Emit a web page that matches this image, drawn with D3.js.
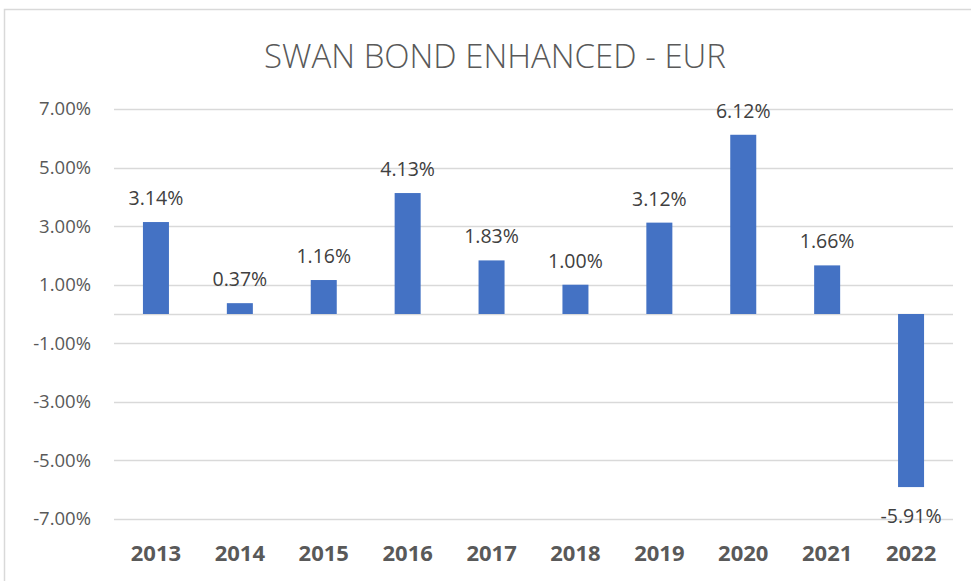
<!DOCTYPE html>
<html>
<head>
<meta charset="utf-8">
<script src="https://cdn.jsdelivr.net/npm/d3@7"></script>
<style>
  html, body { margin: 0; padding: 0; background: #fff; }
  svg { display: block; }
  text { font-family: "Open Sans", "Liberation Sans", sans-serif; }
</style>
</head>
<body>
<svg id="chart" width="971" height="581"></svg>
<script>
const years = ["2013","2014","2015","2016","2017","2018","2019","2020","2021","2022"];
const returns = [3.14, 0.37, 1.16, 4.13, 1.83, 1.00, 3.12, 6.12, 1.66, -5.91];
const tickValues = [7, 5, 3, 1, -1, -3, -5, -7];
const title = "SWAN BOND ENHANCED - EUR";

const svg = d3.select("#chart");
const W = 971, H = 581;
const pct = v => d3.format(".2f")(v).replace("\u2212", "-") + "%";

// chart frame
svg.append("rect")
  .attr("x", 4.5).attr("y", 9.5)
  .attr("width", W + 10).attr("height", H + 10)
  .attr("fill", "#fff").attr("stroke", "#d9d9d9").attr("stroke-width", 1.5);

const plot = { left: 114, right: 953, top: 109, bottom: 519 };

const x = d3.scaleBand().domain(years).range([plot.left, plot.right]).paddingInner(0.69).paddingOuter(0.345);
const y = d3.scaleLinear().domain([-7, 7]).range([plot.bottom, plot.top]);

// gridlines
svg.append("g").selectAll("line").data(tickValues.concat([0])).join("line")
  .attr("x1", plot.left).attr("x2", plot.right)
  .attr("y1", d => Math.round(y(d)) + 0.5).attr("y2", d => Math.round(y(d)) + 0.5)
  .attr("stroke", "#d9d9d9").attr("stroke-width", 1.3);

// y axis labels
const yAxis = d3.axisLeft(y).tickValues(tickValues).tickSize(0).tickPadding(0).tickFormat(pct);
const gy = svg.append("g").attr("transform", `translate(${plot.left - 23},0)`).call(yAxis);
gy.select(".domain").remove();
gy.selectAll("text").attr("fill", "#595959").style("font-size", "18.5px")
  .style("font-family", "'Open Sans', sans-serif");

// bars
svg.append("g").selectAll("rect").data(years).join("rect")
  .attr("x", d => x(d))
  .attr("width", x.bandwidth())
  .attr("y", (d, i) => y(Math.max(0, returns[i])))
  .attr("height", (d, i) => Math.abs(y(returns[i]) - y(0)))
  .attr("fill", "#4472C4");

// data labels
svg.append("g").selectAll("text").data(years).join("text")
  .attr("x", d => x(d) + x.bandwidth() / 2)
  .attr("y", (d, i) => returns[i] >= 0 ? y(returns[i]) - 17 : y(returns[i]) + 36)
  .attr("text-anchor", "middle")
  .attr("fill", "#404040")
  .style("font-size", "19.5px")
  .text((d, i) => pct(returns[i]));

// x axis labels
const xAxis = d3.axisBottom(x).tickSize(0).tickPadding(0);
const gx = svg.append("g").attr("transform", `translate(0,${plot.bottom + 26})`).call(xAxis);
gx.select(".domain").remove();
gx.selectAll("text").attr("fill", "#595959").style("font-size", "22px")
  .style("font-weight", "bold").style("font-family", "'Open Sans', sans-serif");

// title
svg.append("text")
  .attr("x", 495).attr("y", 68)
  .attr("text-anchor", "middle")
  .attr("fill", "#595959")
  .style("font-size", "33px")
  .style("font-weight", "300")
  .text(title);
</script>
</body>
</html>
